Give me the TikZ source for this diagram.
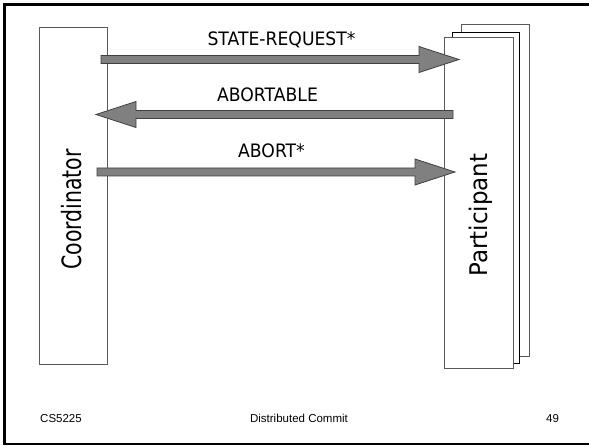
\documentclass[tikz,border=0pt]{standalone}
\usepackage{fontspec}
\newfontfamily\labelfont{DejaVu Sans}
\newfontfamily\footfont{Liberation Sans}
\usetikzlibrary{calc}

\definecolor{shaftgray}{HTML}{808080}
\definecolor{edgegray}{HTML}{404040}
\definecolor{boxgray}{HTML}{5A5A5A}

% horizontal block arrow from #1 to its tip #2; #3 names the head base
\newcommand\blockarrow[3]{%
  \coordinate (#3-b) at ($(#2)!40pt!(#1)$);
  \draw[arrowbody] ($(#1)+(0,-4)$) -- ($(#3-b)+(0,-4)$) -- ($(#3-b)+(0,-13)$)
    -- (#2) -- ($(#3-b)+(0,13)$) -- ($(#3-b)+(0,4)$) -- ($(#1)+(0,4)$) -- cycle;}

\begin{document}
\begin{tikzpicture}[x=1pt,y=-1pt,
  procbox/.style={draw=boxgray,fill=white,line width=0.8pt,inner sep=0pt},
  arrowbody/.style={draw=edgegray,fill=shaftgray,line width=0.8pt,line join=miter},
  msg/.style={inner sep=0pt,anchor=base,font=\labelfont\fontsize{18.5}{20}\selectfont},
  foot/.style={inner sep=0pt,font=\footfont\fontsize{11.5}{13}\selectfont}]
\useasboundingbox (0,0) rectangle (589,446);
\fill[white] (0,0) rectangle (589,446);

% slide frame
\draw[line width=2.6pt] (600,4.5) -- (4.5,4.5) -- (4.5,444) -- (600,444);

% coordinator
\node[procbox,minimum width=68pt,minimum height=337pt] (coord) at (73,195.5) {};
\node[inner sep=0pt,anchor=base,rotate=90,font=\labelfont\fontsize{26.6}{28}\selectfont]
  (coordlbl) at (81.7,209.5) {\scalebox{0.77}[1]{Coordinator}};

% stack of participants
\node[procbox,minimum width=68pt,minimum height=332pt] (p3) at (495,190) {};
\node[procbox,draw=black,minimum width=67pt,minimum height=331pt] (p2) at (485.5,197.5) {};
\node[procbox,minimum width=69pt,minimum height=331pt] (p1) at (478.5,202.5) {};
\node[inner sep=0pt,anchor=base,rotate=90,font=\labelfont\fontsize{24.3}{26}\selectfont]
  (partlbl) at (487,215) {\scalebox{0.945}[1]{Participant}};

% messages
\coordinate (m1s) at (101,59.5);  \coordinate (m1e) at (459,59.5);
\coordinate (m2s) at (453,114.5); \coordinate (m2e) at (96,114.5);
\coordinate (m3s) at (97,172);    \coordinate (m3e) at (455,172);
\blockarrow{m1s}{m1e}{m1}
\blockarrow{m2s}{m2e}{m2}
\blockarrow{m3s}{m3e}{m3}
\node[msg] (l1) at (281.5,46) {\scalebox{0.93}[1]{STATE-REQUEST*}};
\node[msg] (l2) at (267.5,102) {\scalebox{0.93}[1]{ABORTABLE}};
\node[msg] (l3) at (271.5,158) {\scalebox{0.93}[1]{ABORT*}};

% footer
\node[foot,anchor=base west] (course) at (40,422) {CS5225};
\node[foot,anchor=base] (title) at (299,422) {Distributed Commit};
\node[foot,anchor=base] (page) at (552.5,422) {49};
\end{tikzpicture}
\end{document}
